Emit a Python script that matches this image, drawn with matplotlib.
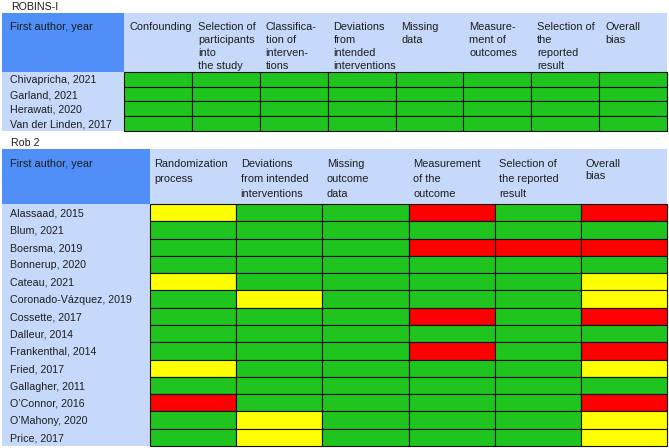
import matplotlib
matplotlib.use("Agg")
import matplotlib.pyplot as plt
from matplotlib.patches import Rectangle

plt.rcParams['font.family'] = ['Liberation Sans', 'DejaVu Sans']

# ---------------- data ----------------
robins_title = "ROBINS-I"
robins_domains = ["Confounding", "Selection of\nparticipants\ninto\nthe study",
                  "Classifica-\ntion of\ninterven-\ntions",
                  "Deviations\nfrom\nintended\ninterventions",
                  "Missing\ndata", "Measure-\nment of\noutcomes",
                  "Selection of\nthe\nreported\nresult", "Overall\nbias"]
robins_studies = ["Chivapricha, 2021", "Garland, 2021", "Herawati, 2020",
                  "Van der Linden, 2017"]
robins_ratings = [
    ["G", "G", "G", "G", "G", "G", "G", "G"],
    ["G", "G", "G", "G", "G", "G", "G", "G"],
    ["G", "G", "G", "G", "G", "G", "G", "G"],
    ["G", "G", "G", "G", "G", "G", "G", "G"],
]

rob2_title = "Rob 2"
rob2_domains = ["Randomization\nprocess", "Deviations\nfrom intended\ninterventions",
                "Missing\noutcome\ndata", "Measurement\nof the\noutcome",
                "Selection of\nthe reported\nresult", "Overall\nbias"]
rob2_studies = ["Alassaad, 2015", "Blum, 2021", "Boersma, 2019", "Bonnerup, 2020",
                "Cateau, 2021", "Coronado-Vázquez, 2019", "Cossette, 2017",
                "Dalleur, 2014", "Frankenthal, 2014", "Fried, 2017",
                "Gallagher, 2011", "O’Connor, 2016", "O’Mahony, 2020", "Price, 2017"]
rob2_ratings = [
    ["Y", "G", "G", "R", "G", "R"],
    ["G", "G", "G", "G", "G", "G"],
    ["G", "G", "G", "R", "R", "R"],
    ["G", "G", "G", "G", "G", "G"],
    ["Y", "G", "G", "G", "G", "Y"],
    ["G", "Y", "G", "G", "G", "Y"],
    ["G", "G", "G", "R", "G", "R"],
    ["G", "G", "G", "G", "G", "G"],
    ["G", "G", "G", "R", "G", "R"],
    ["Y", "G", "G", "G", "G", "Y"],
    ["G", "G", "G", "G", "G", "G"],
    ["R", "G", "G", "G", "G", "R"],
    ["G", "Y", "G", "G", "G", "Y"],
    ["G", "Y", "G", "G", "G", "Y"],
]
first_col_label = "First author, year"

# ---------------- style ----------------
COLORS = {"G": "#1fc41f", "Y": "#ffff00", "R": "#ff0000"}
LIGHT = "#c6d9fa"
DARK = "#4f8ff7"
TXT = "#1e1e1e"
FS_ROW = 7.7
FS_HEAD = 7.9

fig = plt.figure(figsize=(6.69, 4.48), dpi=100)
ax = fig.add_axes([0, 0, 1, 1])
ax.set_xlim(0, 669)
ax.set_ylim(448, 0)
ax.axis('off')


def draw_table(title, title_y, domains, studies, ratings, x0, x_left, x_right,
               y_head, y_data, y_end, head_ls, head_base, col_pad_x, last_ls=None):
    ncol = len(domains)
    nrow = len(studies)
    cw = (x_right - x_left) / ncol
    rh = (y_end - y_data) / nrow
    ax.text(x0 + 9, title_y, title, fontsize=FS_ROW, color=TXT, va='baseline', ha='left')
    # header
    ax.add_patch(Rectangle((x0, y_head), x_left - x0, y_data - y_head, fc=DARK, ec='none'))
    ax.add_patch(Rectangle((x_left, y_head), x_right - x_left, y_data - y_head, fc=LIGHT, ec='none'))
    ax.text(x0 + 8, head_base, first_col_label, fontsize=FS_HEAD, color=TXT,
            va='baseline', ha='left')
    for j, d in enumerate(domains):
        ls = head_ls
        if last_ls is not None and j == ncol - 1:
            ls = last_ls
        # anchor the first line's baseline
        lines = d.split("\n")
        t = ax.text(x_left + j * cw + col_pad_x, head_base, lines[0], fontsize=FS_HEAD,
                    color=TXT, va='baseline', ha='left')
        for k, ln in enumerate(lines[1:], start=1):
            ax.text(x_left + j * cw + col_pad_x, head_base + k * ls, ln,
                    fontsize=FS_HEAD, color=TXT, va='baseline', ha='left')
    # left study column
    ax.add_patch(Rectangle((x0, y_data), x_left - x0, y_end - y_data, fc=LIGHT, ec='none'))
    for i, s in enumerate(studies):
        ax.text(x0 + 8, y_data + (i + 0.5) * rh, s, fontsize=FS_ROW, color=TXT,
                va='center_baseline', ha='left')
        for j, r in enumerate(ratings[i]):
            ax.add_patch(Rectangle((x_left + j * cw, y_data + i * rh), cw, rh,
                                   fc=COLORS[r], ec='#111111', lw=0.8))


# head_ls / last_ls given here as baseline-to-baseline distances in pixels
draw_table(robins_title, 10, robins_domains, robins_studies, robins_ratings,
           x0=2, x_left=124, x_right=667, y_head=13, y_data=72, y_end=131,
           head_ls=13.2, head_base=29.5, col_pad_x=6)
draw_table(rob2_title, 146, rob2_domains, rob2_studies, rob2_ratings,
           x0=2, x_left=150, x_right=667, y_head=149, y_data=204, y_end=446,
           head_ls=15, head_base=167, col_pad_x=4.5, last_ls=12)

fig.savefig("out.png", dpi=100)
